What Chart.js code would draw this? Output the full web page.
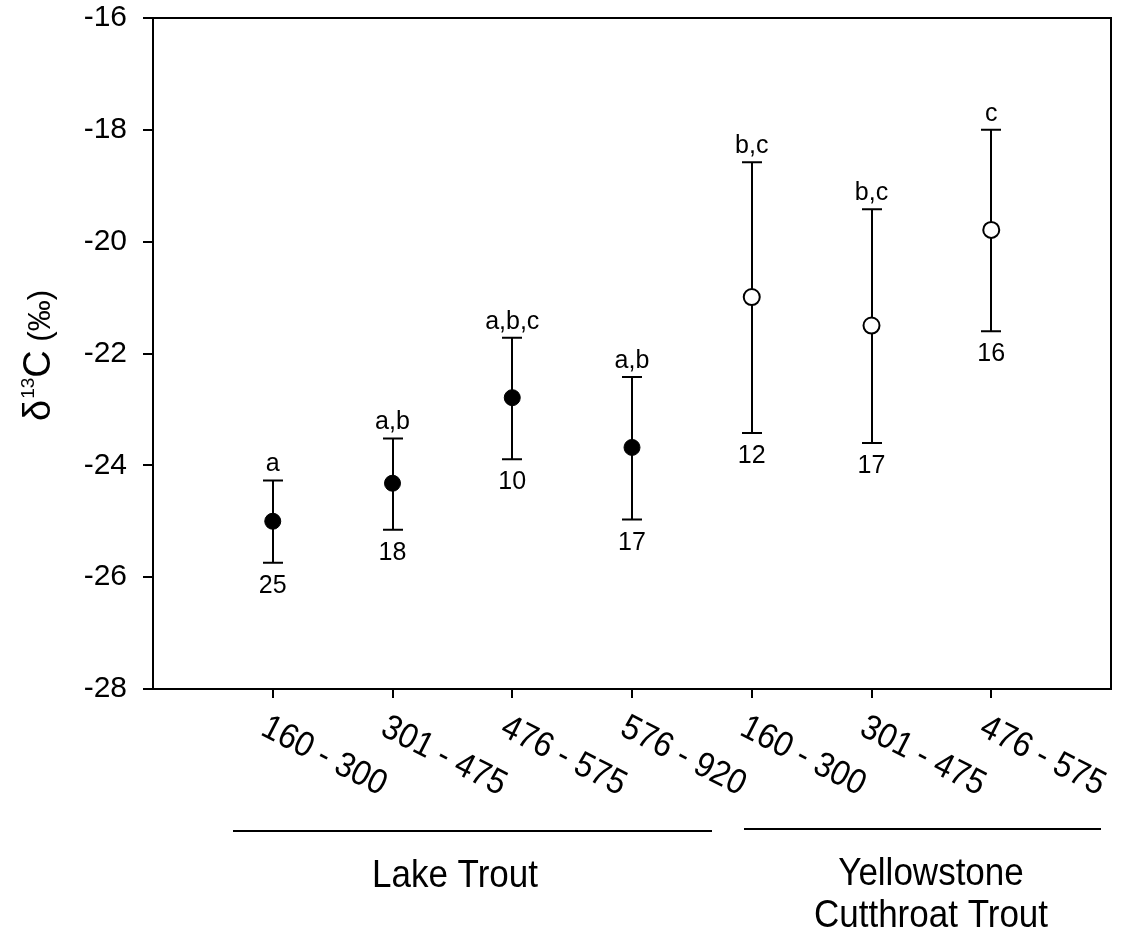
<!DOCTYPE html>
<html><head><meta charset="utf-8">
<script src="https://cdn.jsdelivr.net/npm/chart.js@4/dist/chart.umd.min.js"></script>
<style>html,body{margin:0;padding:0;background:#fff}#wrap{width:1126px;height:935px}</style>
</head><body><div id="wrap"><canvas id="c" width="1126" height="935"></canvas></div>
<script>
// ---- data ----
const categories = ['160 - 300','301 - 475','476 - 575','576 - 920','160 - 300','301 - 475','476 - 575'];
const groups = ['Lake Trout','Lake Trout','Lake Trout','Lake Trout','Yellowstone Cutthroat Trout','Yellowstone Cutthroat Trout','Yellowstone Cutthroat Trout'];
const meanValues = [-25.00, -24.32, -22.79, -23.68, -20.99, -21.50, -19.79];
const upperValues = [-24.27, -23.52, -21.72, -22.42, -18.58, -19.42, -18.00];
const lowerValues = [-25.74, -25.15, -23.89, -24.97, -23.42, -23.60, -21.60];
const letterLabels = ['a','a,b','a,b,c','a,b','b,c','b,c','c'];
const sampleSizes = ['25','18','10','17','12','17','16'];
const yTickValues = [-28,-26,-24,-22,-20,-18,-16];
const groupNames = ['Lake Trout', 'Yellowstone\nCutthroat Trout'];

const FONT = '"Liberation Sans", Arial, Helvetica, sans-serif';

function pts(group){
  const out = [];
  categories.forEach((c,i)=>{ if(groups[i]===group) out.push({x:i+1, y:meanValues[i]}); });
  return out;
}

const frame = {
  id:'frame',
  afterDatasetsDraw(chart){
    const {ctx, chartArea:a} = chart;
    ctx.save();
    ctx.strokeStyle='#000'; ctx.lineWidth=2;
    ctx.beginPath();
    ctx.moveTo(a.left, a.top); ctx.lineTo(a.right, a.top); ctx.lineTo(a.right, a.bottom);
    ctx.stroke();
    ctx.restore();
  }
};

const errorBars = {
  id:'errorBars',
  beforeDatasetsDraw(chart){
    const {ctx, scales:{x,y}} = chart;
    ctx.save();
    ctx.strokeStyle='#000'; ctx.lineWidth=2;
    categories.forEach((c,i)=>{
      const px = Math.round(x.getPixelForValue(i+1));
      const yu = y.getPixelForValue(upperValues[i]);
      const yl = y.getPixelForValue(lowerValues[i]);
      ctx.beginPath();
      ctx.moveTo(px, yu); ctx.lineTo(px, yl);
      ctx.moveTo(px-10, yu); ctx.lineTo(px+10, yu);
      ctx.moveTo(px-10, yl); ctx.lineTo(px+10, yl);
      ctx.stroke();
    });
    ctx.restore();
  },
  afterDatasetsDraw(chart){
    const {ctx, scales:{x,y}} = chart;
    ctx.save();
    ctx.fillStyle='#000';
    ctx.font = '25px ' + FONT;
    ctx.textAlign='center';
    ctx.textBaseline='alphabetic';
    categories.forEach((c,i)=>{
      const px = x.getPixelForValue(i+1);
      const yu = y.getPixelForValue(upperValues[i]);
      const yl = y.getPixelForValue(lowerValues[i]);
      ctx.fillText(letterLabels[i], px, yu - 9);
      ctx.fillText(sampleSizes[i], px, yl + 30);
    });
    ctx.restore();
  }
};

const annotations = {
  id:'annotations',
  afterDraw(chart){
    const {ctx, scales:{x}} = chart;
    ctx.save();
    ctx.fillStyle='#000';
    // rotated category labels
    ctx.font = '32px ' + FONT;
    ctx.textAlign='left';
    ctx.textBaseline='top';
    categories.forEach((c,i)=>{
      const px = x.getPixelForValue(i+1);
      ctx.save();
      ctx.translate(px - 1, x.top + 21);
      ctx.rotate(27*Math.PI/180);
      ctx.scale(1, 1.1);
      ctx.fillText(c, 0, 0);
      ctx.restore();
    });
    // group lines
    ctx.strokeStyle='#000'; ctx.lineWidth=2;
    ctx.beginPath();
    ctx.moveTo(233, 831); ctx.lineTo(712, 831);
    ctx.moveTo(744, 829); ctx.lineTo(1101, 829);
    ctx.stroke();
    // group names
    ctx.textAlign='center';
    ctx.textBaseline='alphabetic';
    const drawTall = (t, cx, by)=>{
      ctx.save(); ctx.translate(cx, by); ctx.scale(1, 1.1);
      ctx.fillText(t, 0, 0); ctx.restore();
    };
    ctx.font = '35px ' + FONT;
    drawTall(groupNames[0], 455, 887);
    const yl = groupNames[1].split('\n');
    drawTall(yl[0], 931, 885);
    drawTall(yl[1], 931, 927);
    // y-axis title
    ctx.save();
    ctx.translate(50, 421);
    ctx.rotate(-Math.PI/2);
    ctx.textAlign='left';
    let cx = 0;
    ctx.font = '38px ' + FONT;
    ctx.fillText('\u03B4', cx, 0); cx += ctx.measureText('\u03B4').width + 1;
    ctx.font = '19px ' + FONT;
    ctx.fillText('13', cx, -16); cx += ctx.measureText('13').width;
    ctx.font = '38px ' + FONT;
    ctx.fillText('C', cx, 0); cx += ctx.measureText('C').width;
    ctx.font = '31px ' + FONT;
    ctx.fillText(' (\u2030)', cx, 0);
    ctx.restore();
    ctx.restore();
  }
};

new Chart(document.getElementById('c'), {
  type:'scatter',
  data:{
    datasets:[
      {label:groupNames[0], data:pts('Lake Trout'), pointRadius:8, pointHoverRadius:8,
       backgroundColor:'#000', borderColor:'#000', borderWidth:1, showLine:false},
      {label:groupNames[1], data:pts('Yellowstone Cutthroat Trout'), pointRadius:8, pointHoverRadius:8,
       backgroundColor:'#fff', borderColor:'#000', borderWidth:2, showLine:false}
    ]
  },
  options:{
    responsive:false, animation:false, events:[],
    layout:{padding:{left:0, top:18, right:15, bottom:0}},
    plugins:{legend:{display:false}, tooltip:{enabled:false}},
    scales:{
      x:{
        type:'linear', min:0, max:8,
        ticks:{stepSize:1, display:false},
        afterBuildTicks:(s)=>{ s.ticks = s.ticks.filter(t=>t.value>=1 && t.value<=categories.length); },
        afterFit:(s)=>{ s.height = 246; s.paddingLeft = 0; s.paddingRight = 0; },
        grid:{drawOnChartArea:false, drawTicks:true, tickLength:9, color:'#000', lineWidth:2},
        border:{color:'#000', width:2}
      },
      y:{
        min:yTickValues[0], max:yTickValues[yTickValues.length-1],
        afterBuildTicks:(s)=>{ s.ticks = yTickValues.map(v=>({value:v})); },
        ticks:{font:{family:FONT, size:30}, color:'#000', padding:16, callback:(v)=>String(v)},
        afterFit:(s)=>{ s.width = 153; s.paddingTop = 0; s.paddingBottom = 0; },
        grid:{drawOnChartArea:false, drawTicks:true, tickLength:10, color:'#000', lineWidth:2},
        border:{color:'#000', width:2}
      }
    }
  },
  plugins:[frame, errorBars, annotations]
});
</script>
</body></html>
